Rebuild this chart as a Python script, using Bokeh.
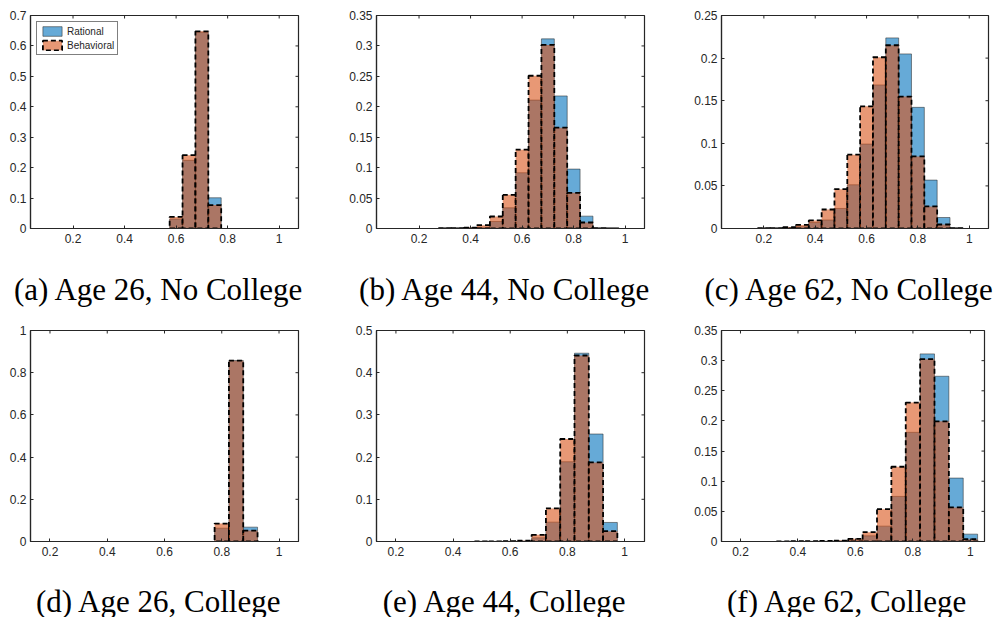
import math
import numpy as np
from bokeh.plotting import figure
from bokeh.layouts import column, row
from bokeh.models import (Range1d, FixedTicker, CustomJSTickFormatter,
                          Legend, LegendItem, ColumnDataSource)
from bokeh.core.properties import value
from bokeh.embed import file_html
from bokeh.resources import INLINE

nan = float("nan")

# ---------------- data ----------------
bin_centers = [0.20, 0.25, 0.30, 0.35, 0.40, 0.45, 0.50, 0.55, 0.60,
               0.65, 0.70, 0.75, 0.80, 0.85, 0.90, 0.95, 1.00]
bin_width = 0.05
series_names = ["Rational", "Behavioral"]
x_ticks = [0.2, 0.4, 0.6, 0.8, 1.0]

captions = ["(a) Age 26, No College", "(b) Age 44, No College", "(c) Age 62, No College",
            "(d) Age 26, College", "(e) Age 44, College", "(f) Age 62, College"]

rational_a   = [nan, nan, nan, nan, nan, nan, nan, nan, 0.031, 0.224, 0.645, 0.101, nan, nan, nan, nan, nan]
behavioral_a = [nan, nan, nan, nan, nan, nan, nan, nan, 0.038, 0.241, 0.648, 0.077, nan, nan, nan, nan, nan]

rational_b   = [nan, nan, 0.0003, 0.0004, 0.0010, 0.0020, 0.0115, 0.0340, 0.0916, 0.2110, 0.3116, 0.2178, 0.0976, 0.0203, 0.0004, 0.0002, nan]
behavioral_b = [nan, nan, 0.0004, 0.0006, 0.0015, 0.0055, 0.0197, 0.0554, 0.1295, 0.2510, 0.3017, 0.1657, 0.0587, 0.0099, 0.0005, 0.0003, nan]

rational_c   = [0.0002, 0.0003, 0.0010, 0.0020, 0.0070, 0.0100, 0.0235, 0.0513, 0.0991, 0.1685, 0.2237, 0.2049, 0.1422, 0.0568, 0.0129, 0.0004, nan]
behavioral_c = [0.0003, 0.0005, 0.0016, 0.0042, 0.0095, 0.0223, 0.0462, 0.0866, 0.1434, 0.2010, 0.2151, 0.1548, 0.0846, 0.0259, 0.0047, 0.0004, nan]

rational_d   = [nan, nan, nan, nan, nan, nan, nan, nan, nan, nan, nan, nan, 0.063, 0.858, 0.068, nan, nan]
behavioral_d = [nan, nan, nan, nan, nan, nan, nan, nan, nan, nan, nan, nan, 0.085, 0.857, 0.052, nan, nan]

rational_e   = [nan, nan, nan, nan, nan, nan, 0.0003, 0.0003, 0.0005, 0.0010, 0.0087, 0.0459, 0.1890, 0.4462, 0.2547, 0.0451, nan]
behavioral_e = [nan, nan, nan, nan, nan, nan, 0.0004, 0.0005, 0.0008, 0.0020, 0.0158, 0.0783, 0.2429, 0.4407, 0.1875, 0.0245, nan]

rational_f   = [nan, nan, nan, 0.0002, 0.0003, 0.0003, 0.0005, 0.0010, 0.0020, 0.0094, 0.0255, 0.0748, 0.1811, 0.3112, 0.2741, 0.1052, 0.0122]
behavioral_f = [nan, nan, nan, 0.0003, 0.0004, 0.0005, 0.0008, 0.0015, 0.0044, 0.0155, 0.0537, 0.1240, 0.2304, 0.3024, 0.1994, 0.0565, 0.0039]

y_ticks_a = [0, 0.1, 0.2, 0.3, 0.4, 0.5, 0.6, 0.7]
y_ticks_b = [0, 0.05, 0.1, 0.15, 0.2, 0.25, 0.3, 0.35]
y_ticks_c = [0, 0.05, 0.1, 0.15, 0.2, 0.25]
y_ticks_d = [0, 0.2, 0.4, 0.6, 0.8, 1.0]
y_ticks_e = [0, 0.1, 0.2, 0.3, 0.4, 0.5]
y_ticks_f = [0, 0.05, 0.1, 0.15, 0.2, 0.25, 0.3, 0.35]

# ---------------- styling ----------------
AX = "#262626"
BLUE = (0, 114, 189)
ORANGE = (217, 83, 25)
fmt_code = "return tick.toFixed(2).replace(/\\.?0+$/, '');"


def style_axis(ax, ticks, standoff):
    ax.ticker = FixedTicker(ticks=ticks)
    ax.formatter = CustomJSTickFormatter(code=fmt_code)
    ax.axis_line_color = AX
    ax.axis_line_width = 1.2
    ax.major_tick_line_color = AX
    ax.major_tick_line_width = 1
    ax.major_tick_in = 3
    ax.major_tick_out = 0
    ax.minor_tick_line_color = None
    ax.major_label_text_font = "Liberation Sans"
    ax.major_label_text_color = AX
    ax.major_label_text_font_size = "12px"
    ax.major_label_standoff = standoff


def make_panel(rational, behavioral, x_range, y_top, y_ticks,
               width, height, borders, legend=False):
    bl, br, bt, bb = borders
    p = figure(width=width, height=height, output_backend="svg", toolbar_location=None,
               x_range=Range1d(*x_range), y_range=Range1d(0, y_top),
               min_border_left=bl, min_border_right=br, min_border_top=bt,
               min_border_bottom=bb)
    p.grid.visible = False
    p.outline_line_color = AX
    p.outline_line_width = 1.2
    p.outline_line_alpha = 1
    p.background_fill_color = "white"
    p.border_fill_color = "white"

    src = ColumnDataSource(dict(
        left=np.array(bin_centers) - bin_width / 2,
        right=np.array(bin_centers) + bin_width / 2,
        rational=np.array(rational, dtype=float),
        behavioral=np.array(behavioral, dtype=float),
    ))
    r1 = p.quad(left="left", right="right", bottom=0, top="rational", source=src,
                fill_color=BLUE, fill_alpha=0.6, line_color=AX, line_width=0.7, line_alpha=0.75)
    r2 = p.quad(left="left", right="right", bottom=0, top="behavioral", source=src,
                fill_color=ORANGE, fill_alpha=0.6, line_color="black", line_width=1.8,
                line_dash="5 3")

    style_axis(p.xaxis[0], x_ticks, 5)
    style_axis(p.yaxis[0], y_ticks, 4)

    # inward tick marks on the top and right edges of the box
    p.ray(x=x_ticks, y=[y_top] * len(x_ticks), length=3, length_units="screen",
          angle=-math.pi / 2, line_color=AX, line_width=1)
    p.ray(x=[x_range[1]] * len(y_ticks), y=y_ticks, length=3, length_units="screen",
          angle=math.pi, line_color=AX, line_width=1)

    if legend:
        lg = Legend(items=[LegendItem(label=series_names[0], renderers=[r1]),
                           LegendItem(label=series_names[1], renderers=[r2])],
                    location="top_left", margin=6, padding=3, spacing=2,
                    glyph_width=24, glyph_height=12, label_standoff=3,
                    label_text_font="Liberation Sans", label_text_font_size="10px",
                    label_text_color=AX, label_height=12,
                    border_line_color="black", border_line_width=1.2,
                    background_fill_color="white", background_fill_alpha=1)
        p.add_layout(lg)
    return p


def make_caption(text, width, height, borders, baseline_from_bottom):
    bl, br = borders[0], borders[1]
    c = figure(width=width, height=height, output_backend="svg", toolbar_location=None,
               x_range=Range1d(0, width), y_range=Range1d(0, height),
               x_axis_type=None, y_axis_type=None,
               min_border=0, min_border_left=0, min_border_right=0,
               min_border_top=0, min_border_bottom=0)
    c.grid.visible = False
    c.outline_line_color = None
    c.background_fill_color = "white"
    c.border_fill_color = "white"
    center = bl + (width - bl - br) / 2 - 5.5
    c.text(x=[center], y=[baseline_from_bottom], text=[text],
           text_font=value("Liberation Serif"), text_font_size=value("31px"),
           text_align="center", text_baseline="alphabetic", text_color="black")
    return c


top_x = (0.035, 1.075)
# (width, panel height, borders left/right/top/bottom)
geo_a = (346, 250, (30, 48, 15, 22))
geo_b = (345, 250, (30, 47, 15, 22))
geo_c = (304, 250, (30, 7, 15, 22))
geo_d = (346, 251, (30, 48, 10, 30))
geo_e = (345, 251, (30, 47, 10, 30))
geo_f = (304, 251, (30, 11, 10, 30))

pa = make_panel(rational_a, behavioral_a, top_x, 0.7, y_ticks_a, *geo_a, legend=True)
pb = make_panel(rational_b, behavioral_b, top_x, 0.35, y_ticks_b, *geo_b)
pc = make_panel(rational_c, behavioral_c, top_x, 0.25, y_ticks_c, *geo_c)
pd = make_panel(rational_d, behavioral_d, (0.132, 1.068), 1.0, y_ticks_d, *geo_d)
pe = make_panel(rational_e, behavioral_e, (0.132, 1.07), 0.5, y_ticks_e, *geo_e)
pf = make_panel(rational_f, behavioral_f, (0.134, 1.049), 0.35, y_ticks_f, *geo_f)

cap_top_h, cap_top_base = 70, 31
cap_bot_h, cap_bot_base = 46, 16
ca = make_caption(captions[0], geo_a[0], cap_top_h, geo_a[2], cap_top_base)
cb = make_caption(captions[1], geo_b[0], cap_top_h, geo_b[2], cap_top_base)
cc = make_caption(captions[2], geo_c[0], cap_top_h, geo_c[2], cap_top_base)
cd = make_caption(captions[3], geo_d[0], cap_bot_h, geo_d[2], cap_bot_base)
ce = make_caption(captions[4], geo_e[0], cap_bot_h, geo_e[2], cap_bot_base)
cf = make_caption(captions[5], geo_f[0], cap_bot_h, geo_f[2], cap_bot_base)

layout = column(row(pa, pb, pc), row(ca, cb, cc), row(pd, pe, pf), row(cd, ce, cf))
open("out.html", "w").write(file_html(layout, INLINE))
